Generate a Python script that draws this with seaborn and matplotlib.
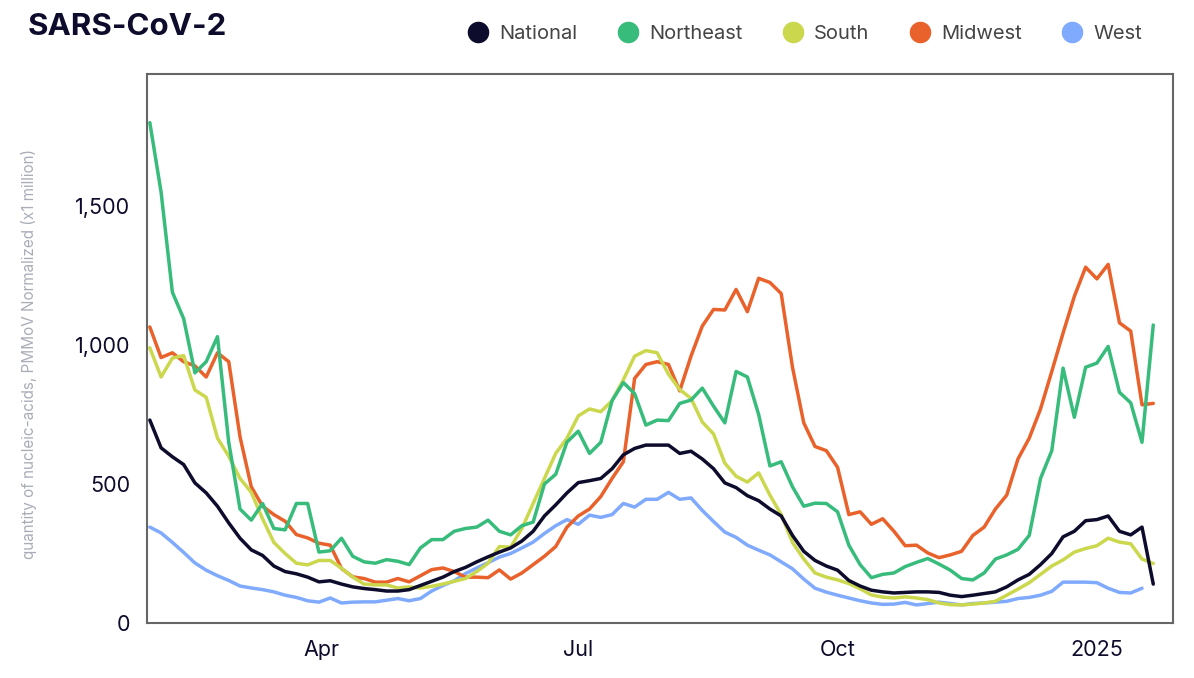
import numpy as np
import pandas as pd
import matplotlib
matplotlib.use("Agg")
import matplotlib.pyplot as plt
from matplotlib.lines import Line2D
from matplotlib.ticker import FuncFormatter
import seaborn as sns

# ---------------- data (every 4 days) ----------------
start_date = "2024-01-31"
n_points = 90
dates = pd.date_range(start_date, periods=n_points, freq="4D")

national = [730, 630, 598, 570, 504, 468, 420, 360, 305, 263,
            243, 205, 185, 177, 165, 148, 152, 140, 130, 124,
            120, 115, 115, 120, 135, 150, 165, 185, 200, 220,
            238, 255, 270, 295, 330, 385, 425, 468, 505, 512,
            520, 555, 605, 628, 640, 640, 640, 610, 618, 590,
            555, 504, 487, 458, 440, 410, 385, 315, 258, 225,
            205, 190, 153, 133, 118, 112, 108, 110, 112, 112,
            110, 100, 95, 100, 106, 112, 130, 155, 175, 210,
            250, 310, 330, 368, 372, 385, 330, 317, 345, 140]

northeast = [1800, 1550, 1190, 1095, 900, 940, 1030, 650, 410, 370,
             430, 340, 335, 430, 430, 255, 260, 305, 240, 220,
             215, 228, 222, 210, 270, 300, 300, 330, 340, 345,
             370, 330, 317, 350, 363, 500, 535, 651, 690, 610,
             650, 800, 865, 825, 712, 730, 728, 790, 802, 845,
             780, 720, 905, 885, 750, 565, 580, 490, 420, 431,
             430, 400, 280, 210, 163, 175, 180, 203, 218, 232,
             212, 190, 160, 155, 180, 230, 245, 265, 315, 520,
             620, 917, 740, 920, 935, 995, 830, 792, 650, 1072]

south = [990, 885, 953, 962, 838, 812, 665, 600, 520, 470,
         375, 290, 250, 215, 209, 225, 225, 197, 165, 140,
         137, 137, 126, 130, 126, 132, 140, 150, 160, 185,
         215, 275, 273, 340, 430, 520, 610, 665, 745, 770,
         760, 800, 875, 960, 980, 972, 895, 840, 808, 723,
         680, 575, 528, 507, 540, 460, 390, 290, 230, 180,
         165, 155, 142, 123, 101, 93, 90, 94, 90, 84,
         72, 66, 65, 68, 72, 78, 100, 122, 145, 175,
         205, 227, 255, 268, 278, 305, 291, 285, 230, 214]

midwest = [1065, 955, 972, 940, 925, 885, 972, 940, 670, 490,
           420, 390, 366, 318, 306, 287, 280, 196, 166, 160,
           147, 147, 160, 148, 170, 192, 198, 185, 165, 165,
           163, 191, 158, 180, 210, 240, 275, 345, 385, 410,
           455, 520, 580, 880, 930, 940, 930, 835, 960, 1068,
           1128, 1126, 1200, 1120, 1240, 1225, 1185, 920, 720, 635,
           620, 560, 390, 400, 355, 375, 330, 278, 280, 252,
           235, 245, 258, 315, 345, 410, 460, 590, 665, 770,
           905, 1043, 1175, 1280, 1238, 1290, 1080, 1050, 785, 790]

west = [345, 324, 290, 254, 216, 190, 170, 153, 133, 126,
        120, 112, 100, 92, 80, 75, 90, 72, 75, 76,
        76, 82, 88, 80, 88, 115, 135, 152, 178, 198,
        217, 237, 250, 270, 291, 322, 350, 372, 355, 388,
        380, 390, 430, 417, 445, 445, 470, 445, 450, 405,
        365, 327, 308, 280, 262, 245, 220, 195, 158, 125,
        111, 100, 90, 80, 72, 67, 68, 74, 65, 70,
        75, 70, 65, 70, 72, 75, 78, 88, 92, 100,
        114, 147, 147, 147, 145, 125, 110, 108, 125, np.nan]

regions = ["National", "Northeast", "South", "Midwest", "West"]
colors = ["#0e0c2c", "#38bc7c", "#cbd84e", "#e9622b", "#80aafd"]

tick_dates = ["2024-04-01", "2024-07-01", "2024-10-01", "2025-01-01"]
tick_labels = ["Apr", "Jul", "Oct", "2025"]
y_ticks = [0, 500, 1000, 1500]

title = "SARS-CoV-2"
y_label = "quantity of nucleic-acids, PMMoV Normalized (x1 million)"

# ---------------- build long table ----------------
series = [national, northeast, south, midwest, west]
df = pd.concat(
    [pd.DataFrame({"date": dates, "value": vals, "region": name})
     for name, vals in zip(regions, series)],
    ignore_index=True,
)

# ---------------- plot ----------------
sns.set_theme(style="white")
plt.rcParams["font.family"] = ["Inter", "DejaVu Sans"]

fig = plt.figure(figsize=(11.94, 6.78), dpi=100)
ax = fig.add_axes([147 / 1194, 1 - 623 / 678, (1173 - 147) / 1194, (623 - 74) / 678])

palette = dict(zip(regions, colors))
order = ["West", "Midwest", "South", "Northeast", "National"]
for name in order:
    sns.lineplot(data=df[df.region == name], x="date", y="value", color=palette[name],
                 linewidth=2.5, ax=ax, legend=False)

ax.set_xlim(pd.Timestamp("2024-01-30"), pd.Timestamp("2025-01-28"))
ax.set_ylim(0, 1975)
ax.set_xticks(pd.to_datetime(tick_dates))
ax.set_xticklabels(tick_labels)
ax.set_yticks(y_ticks)
ax.yaxis.set_major_formatter(FuncFormatter(lambda v, p: f"{int(v):,}"))
ax.set_xlabel("")
ax.set_ylabel(y_label, color="#a9adb8", fontsize=11)
ax.yaxis.set_label_coords((37 - 147) / 1026, 0.49)

for s in ax.spines.values():
    s.set_color("#666666")
    s.set_linewidth(1.5)
ax.tick_params(axis="both", which="major", direction="out", length=8, width=1.5,
               color="#666666", labelcolor="#0e0c2c", labelsize=15.5, pad=4)

fig.text(28 / 1194, 1 - 27 / 678, title, fontsize=22.5, fontweight="bold",
         color="#0e0c2c", va="center", ha="left")

handles = [Line2D([0], [0], marker="o", linestyle="none", markersize=14.5,
                  markerfacecolor=c, markeredgecolor=c) for c in colors]
leg = fig.legend(handles, regions, loc="center right", ncol=5, frameon=False,
                 bbox_to_anchor=(1150 / 1194, 1 - 34 / 678), fontsize=14.5,
                 handletextpad=0.55, columnspacing=2.0, handlelength=1.0,
                 borderaxespad=0)
for t in leg.get_texts():
    t.set_color("#444444")

fig.savefig("out.png", dpi=100, facecolor="white")
